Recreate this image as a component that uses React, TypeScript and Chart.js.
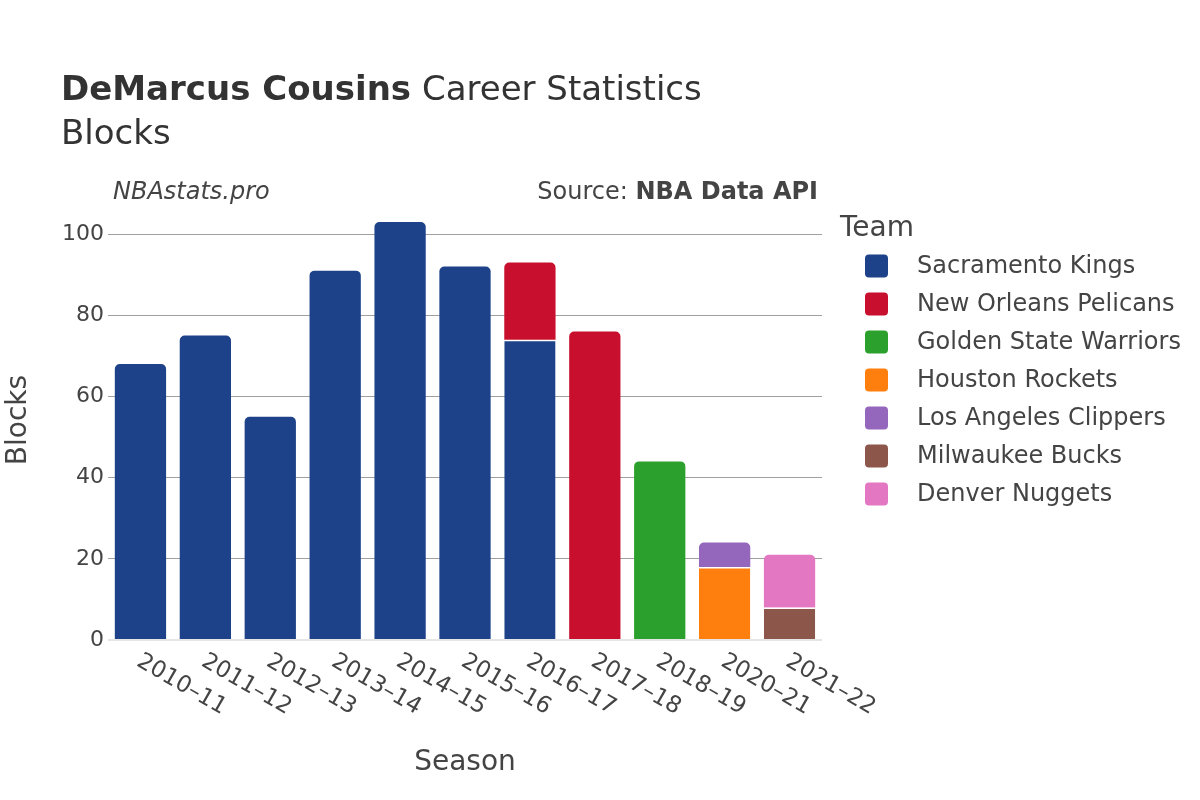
import React, { useEffect, useRef } from "react";
import { Chart, registerables } from "chart.js";

Chart.register(...registerables);

const seasons = [
  "2010–11", "2011–12", "2012–13", "2013–14", "2014–15", "2015–16",
  "2016–17", "2017–18", "2018–19", "2020–21", "2021–22",
];

const teams = [
  "Sacramento Kings",
  "New Orleans Pelicans",
  "Golden State Warriors",
  "Houston Rockets",
  "Los Angeles Clippers",
  "Milwaukee Bucks",
  "Denver Nuggets",
];

const teamColors = ["#1d428a", "#c8102e", "#2ca02c", "#ff7f0e", "#9467bd", "#8c564b", "#e377c2"];

const kings = [68, 75, 55, 91, 103, 92, 74, null, null, null, null];
const pelicans = [null, null, null, null, null, null, 19, 76, null, null, null];
const warriors = [null, null, null, null, null, null, null, null, 44, null, null];
const rockets = [null, null, null, null, null, null, null, null, null, 18, null];
const clippers = [null, null, null, null, null, null, null, null, null, 6, null];
const bucks = [null, null, null, null, null, null, null, null, null, null, 8];
const nuggets = [null, null, null, null, null, null, null, null, null, null, 13];

const seriesValues = [kings, pelicans, warriors, rockets, clippers, bucks, nuggets];

const yTicks = [0, 20, 40, 60, 80, 100];

const FONT = "'DejaVu Sans', sans-serif";
const TEXT = "#444";

function isTopSegment(di: number, i: number) {
  for (let d = di + 1; d < seriesValues.length; d++) {
    if (seriesValues[d][i] != null) return false;
  }
  return true;
}

const overlayPlugin = {
  id: "overlay",
  afterDraw(chart: any) {
    const ctx = chart.ctx;
    const xs = chart.scales.x;
    ctx.save();
    ctx.fillStyle = "#333";
    ctx.textBaseline = "alphabetic";
    ctx.textAlign = "left";
    // Title
    ctx.font = `bold 34px ${FONT}`;
    const t1 = "DeMarcus Cousins";
    ctx.fillText(t1, 61, 100);
    const w1 = ctx.measureText(t1).width;
    ctx.font = `34px ${FONT}`;
    ctx.fillText(" Career Statistics", 61 + w1, 100);
    ctx.fillText("Blocks", 61, 144);

    ctx.fillStyle = TEXT;
    ctx.font = `italic 24px ${FONT}`;
    ctx.fillText("NBAstats.pro", 113, 199);

    // Source
    ctx.font = `bold 24px ${FONT}`;
    const sb = "NBA Data API";
    const wb = ctx.measureText(sb).width;
    ctx.textAlign = "right";
    ctx.fillText(sb, 818, 199);
    ctx.font = `24px ${FONT}`;
    ctx.fillText("Source: ", 818 - wb, 199);

    // X tick labels
    ctx.textAlign = "left";
    ctx.font = `23px ${FONT}`;
    seasons.forEach((s, i) => {
      const px = xs.getPixelForValue(i);
      ctx.save();
      ctx.translate(px - 5, 665);
      ctx.rotate(Math.PI / 6);
      ctx.fillText(s, 0, 0);
      ctx.restore();
    });

    // Axis titles
    ctx.font = `28px ${FONT}`;
    ctx.textAlign = "center";
    ctx.fillText("Season", (chart.chartArea.left + chart.chartArea.right) / 2, 770);
    ctx.save();
    ctx.translate(26, (chart.chartArea.top + chart.chartArea.bottom) / 2);
    ctx.rotate(-Math.PI / 2);
    ctx.fillText("Blocks", 0, 0);
    ctx.restore();

    // Legend
    ctx.textAlign = "left";
    ctx.font = `28px ${FONT}`;
    ctx.fillText("Team", 840, 236);
    ctx.font = `24px ${FONT}`;
    ctx.textBaseline = "middle";
    teams.forEach((t, i) => {
      const cy = 266 + 38 * i;
      ctx.fillStyle = teamColors[i];
      ctx.beginPath();
      (ctx as any).roundRect(865, cy - 11.5, 23, 23, 4);
      ctx.fill();
      ctx.fillStyle = TEXT;
      ctx.fillText(t, 917, cy + 1);
    });
    ctx.restore();
  },
};

export default function App() {
  const ref = useRef<HTMLCanvasElement>(null);
  useEffect(() => {
    if (!ref.current) return;
    const chart = new Chart(ref.current, {
      type: "bar",
      data: {
        labels: seasons,
        datasets: teams.map((t, di) => ({
          label: t,
          data: seriesValues[di],
          backgroundColor: teamColors[di],
          borderColor: "rgba(255,255,255,0.85)",
          borderWidth: (c: any) =>
            isTopSegment(di, c.dataIndex) ? 0 : { top: 1.5, left: 0, right: 0, bottom: 0 },
          borderSkipped: "start",
          borderRadius: (c: any) =>
            isTopSegment(di, c.dataIndex)
              ? { topLeft: 5, topRight: 5, bottomLeft: 0, bottomRight: 0 }
              : 0,
          barPercentage: 0.79,
          categoryPercentage: 1,
        })),
      },
      options: {
        responsive: false,
        animation: false,
        devicePixelRatio: 1,
        layout: { padding: { top: 200, right: 378, left: 0, bottom: 0 } },
        plugins: { legend: { display: false }, tooltip: { enabled: false }, title: { display: false } },
        scales: {
          x: {
            stacked: true,
            grid: { display: false },
            border: { display: false },
            ticks: { display: false },
            afterFit: (s: any) => {
              s.height = 160;
            },
          },
          y: {
            stacked: true,
            min: 0,
            max: 108.4,
            border: { display: false },
            grid: {
              drawTicks: false,
              color: (c: any) => (c.tick && c.tick.value === 0 ? "#e6e6e6" : "#a0a0a0"),
              lineWidth: (c: any) => (c.tick && c.tick.value === 0 ? 2 : 1),
            },
            afterBuildTicks: (s: any) => {
              s.ticks = yTicks.map((v) => ({ value: v }));
            },
            ticks: {
              padding: 4,
              color: TEXT,
              font: { family: FONT, size: 22 },
            },
            afterFit: (s: any) => {
              s.width = 108;
            },
          },
        },
      },
      plugins: [overlayPlugin],
    });
    return () => chart.destroy();
  }, []);
  return (
    <div style={{ position: "absolute", left: 0, top: 0, width: 1200, height: 800, background: "#fff" }}>
      <canvas ref={ref} width={1200} height={800} />
    </div>
  );
}
